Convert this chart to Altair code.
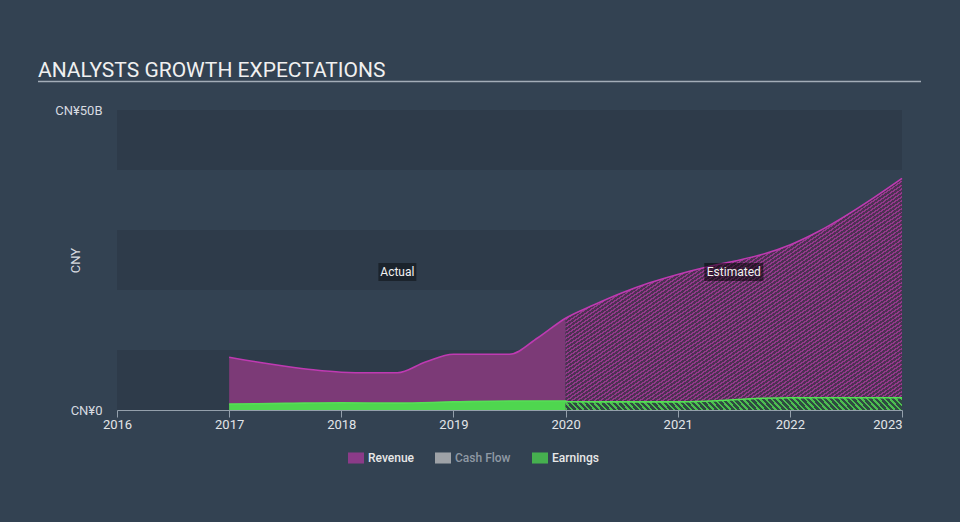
import altair as alt
import pandas as pd

# ---------------- data ----------------
title_text = "ANALYSTS GROWTH EXPECTATIONS"

rev_act_years = [2017.0, 2017.25, 2017.5, 2017.75, 2018.0, 2018.25, 2018.5, 2018.75, 2019.0, 2019.25, 2019.5, 2019.75, 2020.0]
rev_act_vals = [8.8, 8.0, 7.3, 6.7, 6.3, 6.2, 6.2, 8.0, 9.3, 9.3, 9.3, 12.0, 15.3]

rev_est_years = [2020.0, 2020.25, 2020.5, 2020.75, 2021.0, 2021.25, 2021.5, 2021.75, 2022.0, 2022.25, 2022.5, 2022.75, 2023.0]
rev_est_vals = [15.3, 17.5, 19.5, 21.2, 22.6, 23.8, 24.8, 25.9, 27.5, 29.7, 32.4, 35.4, 38.6]

earn_act_years = [2017.0, 2017.5, 2018.0, 2018.5, 2019.0, 2019.5, 2020.0]
earn_act_vals = [1.0, 1.1, 1.2, 1.15, 1.35, 1.5, 1.5]

earn_est_years = [2020.0, 2020.5, 2021.0, 2021.25, 2021.75, 2022.0, 2022.5, 2023.0]
earn_est_vals = [1.4, 1.35, 1.35, 1.45, 1.95, 2.05, 2.05, 2.05]

series_names = ["Revenue", "Cash Flow", "Earnings"]
series_colors = ["#b0399f", "#cccccc", "#4fe04f"]

band_lo = [0, 20, 40]
band_hi = [10, 30, 50]

x_ticks = [2016, 2017, 2018, 2019, 2020, 2021, 2022, 2023]
y_ticks = [0, 50]

ann_text = ["Actual", "Estimated"]
ann_year = [2018.5, 2021.5]
ann_val = [23, 23]

# ---------------- frames ----------------
rev_act = pd.DataFrame({"year": rev_act_years, "value": rev_act_vals})
rev_est = pd.DataFrame({"year": rev_est_years, "value": rev_est_vals})
earn_act = pd.DataFrame({"year": earn_act_years, "value": earn_act_vals})
earn_est = pd.DataFrame({"year": earn_est_years, "value": earn_est_vals})
rev_all = pd.DataFrame({"year": rev_act_years + rev_est_years[1:], "value": rev_act_vals + rev_est_vals[1:]})
earn_all = pd.DataFrame({"year": earn_act_years + earn_est_years, "value": earn_act_vals + earn_est_vals})
bands = pd.DataFrame({"value": band_lo, "hi": band_hi, "year": [x_ticks[0]] * 3, "x1": [x_ticks[-1]] * 3})
legend_df = pd.DataFrame({"series": series_names})
ann = pd.DataFrame({"label": ann_text, "year": ann_year, "value": ann_val})
one = pd.DataFrame({"k": [0]})

W, H = 785, 300
xs = alt.Scale(domain=[x_ticks[0], x_ticks[-1]], nice=False, zero=False)
ys = alt.Scale(domain=[0, 50], nice=False)


def stripes(c1, c2, n, duty=0.42):
    stops = []
    for i in range(n):
        a = i / n
        b = (i + duty) / n
        c = (i + 1) / n
        stops += [alt.GradientStop(offset=a, color=c1), alt.GradientStop(offset=b, color=c1),
                  alt.GradientStop(offset=b, color=c2), alt.GradientStop(offset=c, color=c2)]
    return stops


def hatch(c1, c2, side_px, period=4.0):
    # Vega renders gradients in a square (side = larger bbox side) covering the item
    n = max(1, int(round(side_px * 2 ** 0.5 / period)))
    return alt.Gradient(gradient="linear", x1=0, y1=0, x2=1, y2=1, stops=stripes(c1, c2, n))


px_per_year = W / (x_ticks[-1] - x_ticks[0])
est_w = (rev_est_years[-1] - rev_est_years[0]) * px_per_year

x_axis = alt.Axis(values=x_ticks, format="d", grid=False, domainColor="#94a0ac",
                  tickColor="#94a0ac", tickSize=7, labelPadding=1, labelFontSize=13,
                  labelColor="#e2e5e8", labelFont="Roboto", domainWidth=1.2,
                  labelAlign={"condition": {"test": "datum.value >= 2023", "value": "right"}, "value": "center"})
y_axis = alt.Axis(values=y_ticks, grid=False, domain=False, ticks=False, labelPadding=15,
                  labelFontSize=13, labelColor="#d7dbe0", labelFont="Roboto",
                  labelExpr="datum.value == 0 ? 'CN¥0' : 'CN¥' + datum.value + 'B'",
                  titleColor="#d7dbe0", titleFont="Roboto", titleFontSize=13, titleFontWeight="normal",
                  titleX=-35, titleY=150, titleAngle=270, titleAlign="center", titleBaseline="bottom")

X = alt.X("year:Q", scale=xs, axis=x_axis, title=None)
Y = alt.Y("value:Q", scale=ys, axis=y_axis, title="CNY")

band_layer = alt.Chart(bands).mark_rect(color="#2e3b4a").encode(x=X, x2="x1:Q", y=Y, y2="hi:Q")

rev_act_area = alt.Chart(rev_act).mark_area(color="#7c3a77", interpolate="monotone").encode(x=X, y=Y)
rev_est_area = alt.Chart(rev_est).mark_area(
    color=hatch("#93398b", "#4d3153", est_w), interpolate="monotone").encode(x=X, y=Y)
earn_act_area = alt.Chart(earn_act).mark_area(color="#4fd64f", interpolate="monotone").encode(x=X, y=Y)
earn_est_area = alt.Chart(earn_est).mark_area(
    color=hatch("#4cbf4f", "#2f4a42", est_w), interpolate="monotone").encode(x=X, y=Y)

rev_line = alt.Chart(rev_all).mark_line(color="#bf3ab2", strokeWidth=1.6, interpolate="monotone").encode(x=X, y=Y)
earn_line = alt.Chart(earn_all).mark_line(color="#55e055", strokeWidth=1.6, interpolate="monotone").encode(x=X, y=Y)

legend_layer = alt.Chart(legend_df).mark_square(size=0).transform_filter("false").encode(
    color=alt.Color("series:N", scale=alt.Scale(domain=series_names, range=series_colors),
                    legend=alt.Legend(title=None, orient="none", direction="horizontal",
                                      legendX=231, legendY=340,
                                      symbolType="M-1,-0.69H1V0.69H-1Z", symbolSize=256,
                                      symbolStrokeWidth=0, labelFontSize=12, labelFont="Roboto",
                                      labelFontWeight=500, columnPadding=21, labelOffset=4,
                                      padding=0,
                                      labelColor=alt.ExprRef("datum.label == 'Cash Flow' ? '#8f99a4' : '#e8e8e8'"))))

ann_base = alt.Chart(ann)
box_act = ann_base.transform_filter("datum.label == 'Actual'").mark_rect(
    width=38, height=18, color="#000000", opacity=0.4).encode(x=X, y=Y)
box_est = ann_base.transform_filter("datum.label == 'Estimated'").mark_rect(
    width=59, height=18, color="#000000", opacity=0.5).encode(x=X, y=Y)
ann_text_layer = ann_base.mark_text(fontSize=12, font="Roboto", color="#f2f2f2").encode(
    x=X, y=Y, text="label:N")

title_layer = alt.Chart(one).mark_text(fontSize=21, font="Roboto", color="#f0f0f0", align="left",
                                       baseline="alphabetic").encode(
    x=alt.value(-79), y=alt.value(-33), text=alt.value(title_text))
underline = alt.Chart(one).mark_rule(color="#a3adb8", strokeWidth=1.5).encode(
    x=alt.value(-79), x2=alt.value(804), y=alt.value(-28.5))

chart = alt.layer(
    band_layer, rev_act_area, rev_est_area, earn_act_area, earn_est_area,
    rev_line, earn_line, box_act, box_est, ann_text_layer, title_layer, underline, legend_layer
).properties(
    width=W, height=H,
    autosize=alt.AutoSizeParams(type="none"),
    padding={"left": 117, "top": 110, "right": 58, "bottom": 112},
    background="#334252",
).configure_view(stroke=None)

chart.save("out.html", embed_options={"renderer": "svg", "actions": False})
